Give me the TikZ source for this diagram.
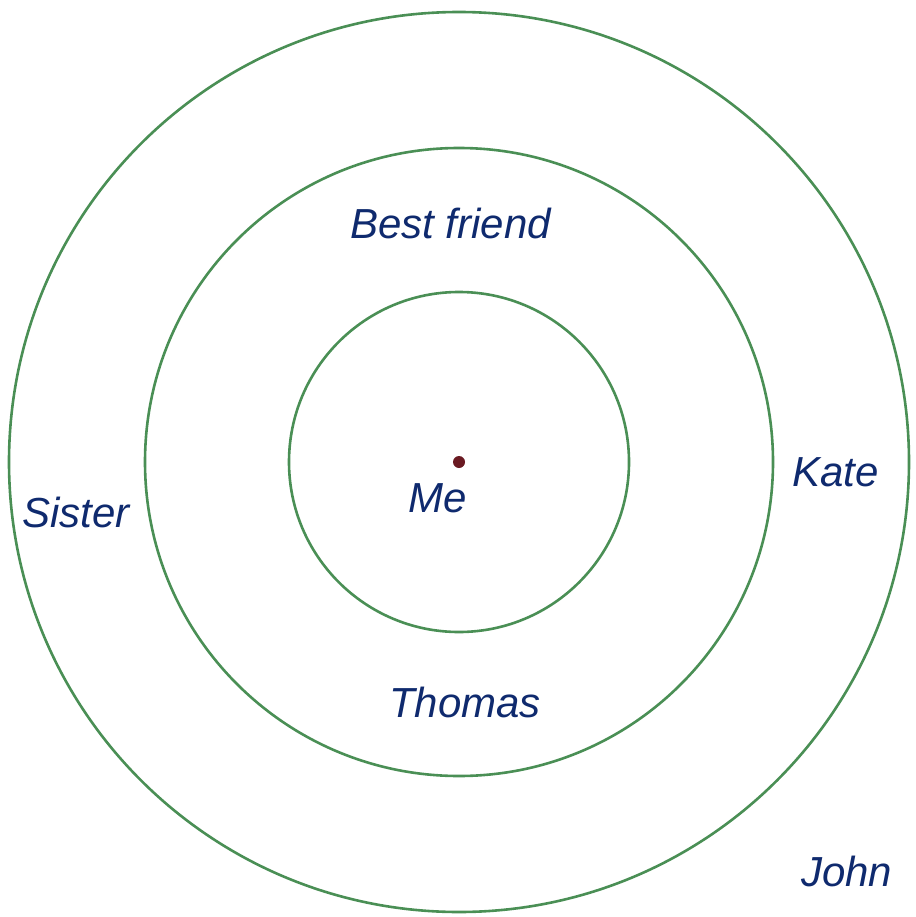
\documentclass[tikz,border=0pt]{standalone}
\usepackage{fontspec}
\setmainfont{Liberation Sans}
\definecolor{ringgreen}{HTML}{4A8F55}
\definecolor{labelblue}{HTML}{0F2A6E}
\definecolor{dotred}{HTML}{6A1A22}
\begin{document}
\begin{tikzpicture}[x=1pt,y=-1pt,
  ring/.style={draw=ringgreen,line width=2.6pt},
  lbl/.style={anchor=base west,inner sep=0pt,text=labelblue,font=\fontsize{42}{50}\selectfont\itshape}]
\useasboundingbox (0,0) rectangle (915,917);
\coordinate (c) at (459,462);
\draw[ring] (c) circle[radius=450pt];
\draw[ring] (c) circle[radius=314pt];
\draw[ring] (c) circle[radius=170pt];
\fill[dotred] (c) circle[radius=6pt];
\node[lbl] (best) at (350,239) {Best friend};
\node[lbl] (me) at (408,512) {Me};
\node[lbl] (sister) at (22,527) {Sister};
\node[lbl] (kate) at (792,486) {Kate};
\node[lbl] (thomas) at (389,717) {Thomas};
\node[lbl] (john) at (801,886) {John};
\end{tikzpicture}
\end{document}
